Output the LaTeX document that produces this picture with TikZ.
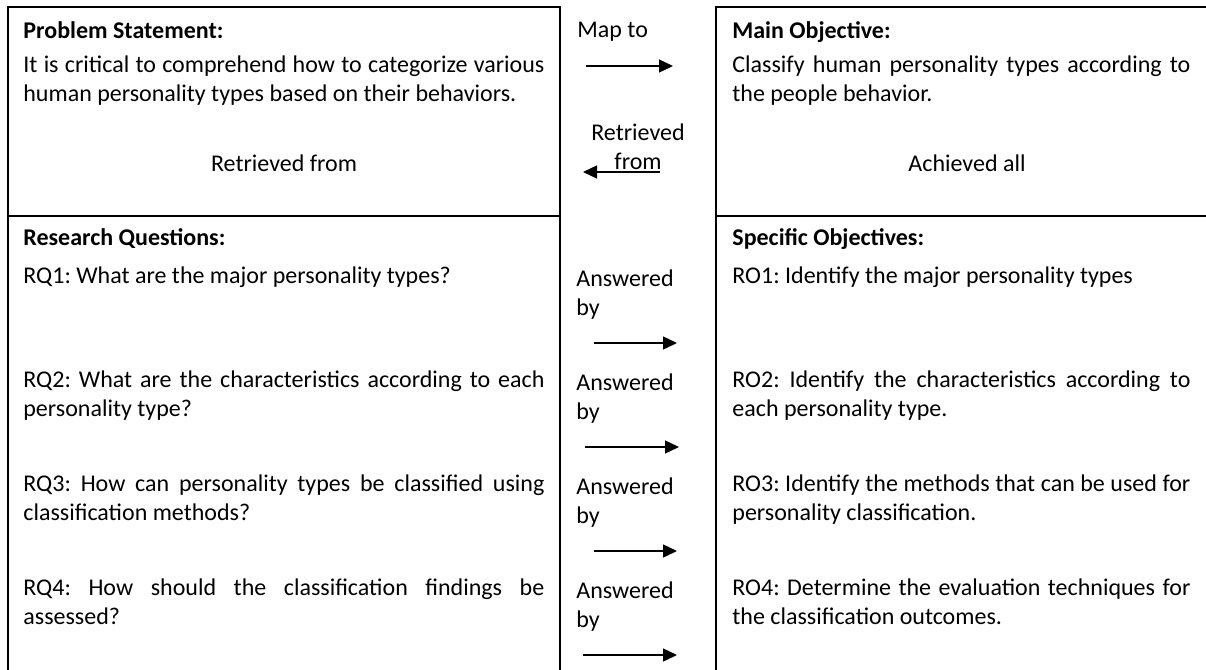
\documentclass[tikz,border=0pt]{standalone}
\usepackage{fontspec}
\setmainfont{Carlito}
\usetikzlibrary{arrows.meta}
\frenchspacing

\newcommand{\cellfont}{\fontsize{12}{14.75}\selectfont\spaceskip 0.226em plus 0.6em minus 0.08em\relax\hyphenpenalty=10000\relax}

\begin{document}
\begin{tikzpicture}[x=0.5pt,y=-0.5pt]

	\tikzstyle border lines=[line width=1pt];
	\tikzstyle link arrows=[line width=0.7pt, -{Triangle[length=7pt,width=6.5pt]}];
	\tikzstyle cell text=[inner sep=0pt, anchor=base west, font=\cellfont];
	\tikzstyle left cell=[cell text, text width=260.5pt, align=justify];
	\tikzstyle right cell=[cell text, text width=229pt, align=justify];

	\useasboundingbox (0,0) rectangle (1206,670);

	% table frame
	\draw[border lines] (8,670) -- (8,7) -- (560,7) -- (560,670);
	\draw[border lines] (1206,7) -- (716,7) -- (716,670);
	\draw[border lines] (8,216) -- (560,216);
	\draw[border lines] (716,216) -- (1206,216);

	% upper row
	\node[cell text] (psh) at (23,38) {\textbf{Problem Statement:}};
	\node[left cell] (ps) at (23,72) {It is critical to comprehend how to categorize various\linebreak human personality types based on their behaviors.};
	\node[cell text, anchor=base] (psr) at (284,171) {Retrieved from};

	\node[cell text] (moh) at (732,38) {\textbf{Main Objective:}};
	\node[right cell] (mo) at (732,72) {Classify human personality types according to\linebreak the people behavior.};
	\node[cell text, anchor=base] (moa) at (967,171) {Achieved all};

	\node[cell text] (map) at (577,37) {Map to};
	\coordinate (map a) at (586,66);
	\coordinate (map b) at (673,66);
	\draw[link arrows] (map a) -- (map b);

	\node[cell text, anchor=base, align=center, text width=60pt] (ret) at (638,140) {Retrieved\\from};
	\coordinate (ret a) at (660,172);
	\coordinate (ret b) at (583,172);
	\draw[link arrows] (ret a) -- (ret b);

	% lower row
	\node[cell text] (rqh) at (23,245) {\textbf{Research Questions:}};
	\node[cell text] (roh) at (732,245) {\textbf{Specific Objectives:}};

	\foreach \k/\q/\o/\xa/\xb in {
		1/{RQ1: What are the major personality types?}/{RO1: Identify the major personality types}/594/677,
		2/{RQ2: What are the characteristics according to each\linebreak personality type?}/{RO2: Identify the characteristics according to\linebreak each personality type.}/585/679,
		3/{RQ3: How can personality types be classified using\linebreak classification methods?}/{RO3: Identify the methods that can be used for\linebreak personality classification.}/594/677,
		4/{RQ4: How should the classification findings be\linebreak assessed?}/{RO4: Determine the evaluation techniques for\linebreak the classification outcomes.}/583/677}
	{
		\node[left cell] (rq\k) at (23,{283+104*(\k-1)}) {\q};
		\node[right cell] (ro\k) at (732,{283+104*(\k-1)}) {\o};
		\node[cell text, text width=60pt] (ans\k) at (576,{286+104*(\k-1)}) {Answered\\by};
		\coordinate (ans a\k) at (\xa,{343+104*(\k-1)});
		\coordinate (ans b\k) at (\xb,{343+104*(\k-1)});
		\draw[link arrows] (ans a\k) -- (ans b\k);
	}

\end{tikzpicture}
\end{document}
